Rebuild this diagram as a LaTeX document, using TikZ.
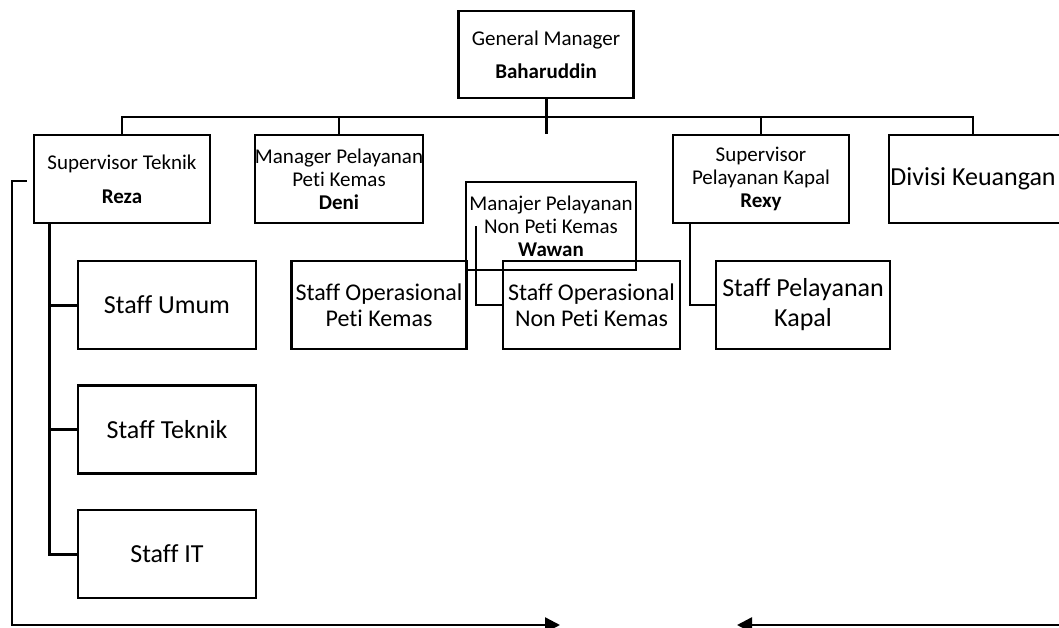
\documentclass[tikz,border=0pt]{standalone}
\usepackage{fontspec}
\setmainfont{Carlito}[Ligatures=NoCommon]
\usetikzlibrary{arrows.meta}

\begin{document}
\begin{tikzpicture}[
  x=1pt, y=-1pt,
  every node/.style={align=center, inner sep=0pt},
  box/.style={draw, line width=2.2pt, minimum height=88pt},
  smalltext/.style={font=\fontsize{21}{23}\selectfont},
  midtext/.style={font=\fontsize{24}{26.5}\selectfont},
  bigtext/.style={font=\fontsize{26}{30}\selectfont},
  link/.style={line width=2.5pt},
  backline/.style={line width=2.5pt, -{Triangle[length=15pt, width=15pt]}}
]
\useasboundingbox (0,0) rectangle (1059,627);

% top
\node[box, smalltext, minimum width=175, minimum height=87] (gm) at (546,54.5)
  {General Manager\\[10pt]\textbf{Baharuddin}};

% second row
\node[box, smalltext, minimum width=176] (supt) at (122,179) {Supervisor Teknik\\[11pt]\textbf{Reza}};
\node[box, smalltext, minimum width=168] (mppk) at (339,179) {Manager Pelayanan\\Peti Kemas\\\textbf{Deni}};
\node[box, smalltext, minimum width=170] (mnpk) at (551,226) {Manajer Pelayanan\\Non Peti Kemas\\\textbf{Wawan}};
\node[box, smalltext, minimum width=176] (spk) at (761,179) {Supervisor\\Pelayanan Kapal\\\textbf{Rexy}};
\node[bigtext, minimum width=168, minimum height=88] (divk) at (973,179) {Divisi Keuangan};
\draw[line width=2.2pt] ([xshift=30]divk.north east) -| (divk.south west) -- ([xshift=30]divk.south east);

% staff
\node[box, bigtext, minimum width=178] (su) at (167,305) {Staff Umum};
\node[box, bigtext, minimum width=178] (stk) at (167,429.5) {Staff Teknik};
\node[box, bigtext, minimum width=178] (sit) at (167,554) {Staff IT};
\node[box, midtext, minimum width=175] (sopk) at (379,305) {Staff Operasional\\Peti Kemas};
\node[box, midtext, minimum width=177] (sonpk) at (591.5,305) {Staff Operasional\\Non Peti Kemas};
\node[box, bigtext, minimum width=174] (spkl) at (803,305) {Staff Pelayanan\\Kapal};

% bus from the general manager
\coordinate (bus) at (0,117);
\draw[link, line width=3pt] (gm.south) -- (gm.south |- mppk.north);
\draw[link] (supt.north) -- (supt.north |- bus) -- (divk.north |- bus) -- (divk.north);
\foreach \n in {mppk,spk}
  \draw[link] (\n.north) -- (\n.north |- bus);

% teknik staff
\coordinate (tk) at ([xshift=17]supt.south west);
\draw[link, line width=3pt] (tk) |- (sit.west);
\foreach \n in {su,stk}
  \draw[link, line width=3pt] (tk |- \n.west) -- (\n.west);

% other staff
\coordinate (nk) at ([xshift=11]mnpk.west);
\draw[link] (nk) |- (sonpk.west);
\coordinate (kp) at ([xshift=18]spk.south west);
\draw[link] (kp) |- (spkl.west);

% return lines
\coordinate (lc) at (12,625);
\coordinate (ta) at (560,625);
\coordinate (tb) at (737,625);
\coordinate (rc) at (1070,625);
\draw[backline] ([shift={(-6,2)}]supt.west) -| (lc) -- (ta);
\draw[backline] (rc) -- (tb);
\end{tikzpicture}
\end{document}
